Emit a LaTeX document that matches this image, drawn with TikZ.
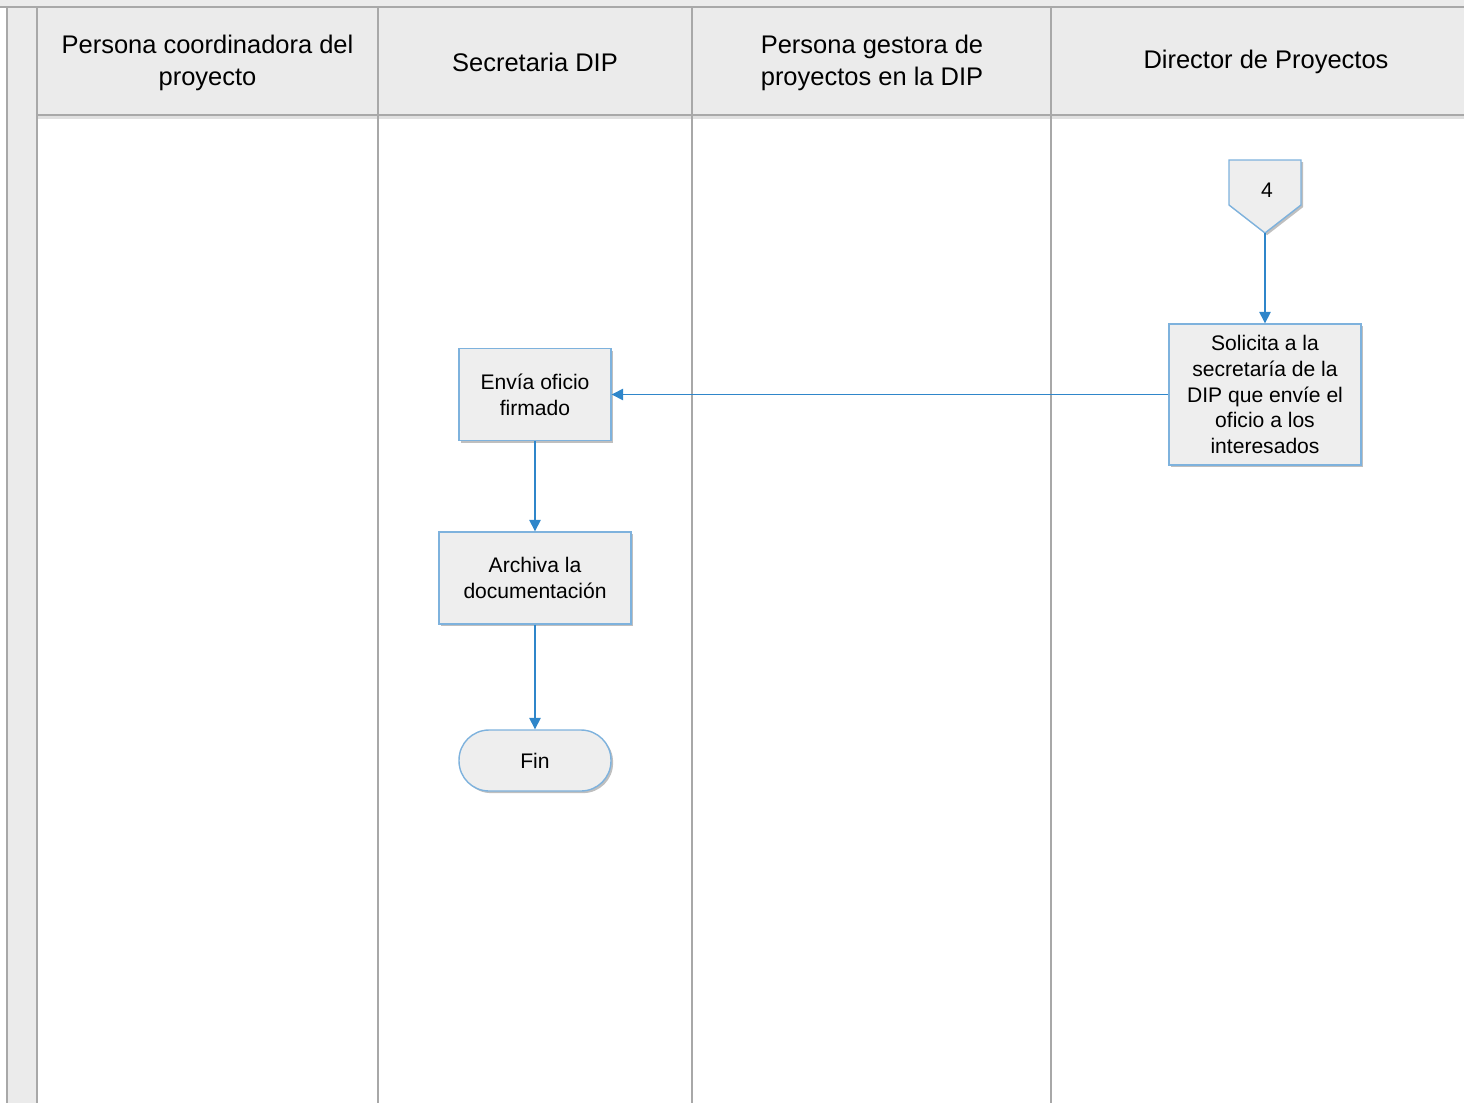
\documentclass[tikz,border=0pt]{standalone}
\usepackage{fontspec}
\setmainfont{Liberation Sans}
\usetikzlibrary{arrows.meta,shadows}
\definecolor{lanegray}{HTML}{A8A8A8}
\definecolor{headfill}{HTML}{EBEBEB}
\definecolor{boxline}{HTML}{7EB2DD}
\definecolor{boxfill}{HTML}{EEEEEE}
\definecolor{flow}{HTML}{2F86CA}

\begin{document}
\begin{tikzpicture}[x=0.02cm,y=-0.02cm,
  lane/.style={draw=lanegray,line width=1pt},
  head/.style={font=\fontsize{14.5}{18}\selectfont,align=center},
  task/.style={draw=boxline,fill=boxfill,line width=0.8pt,align=center,inner sep=0pt,
    font=\fontsize{12}{14.7}\selectfont,
    drop shadow={shadow xshift=1.2pt,shadow yshift=-1.2pt,opacity=0.25,fill=black}},
  link/.style={draw=flow,line width=0.8pt,-{Triangle[length=6.5pt,width=6.5pt]}}]
\useasboundingbox (0,0) rectangle (1464,1103);
% pool and lanes
\fill[headfill] (0,0) rectangle (1464,7);
\fill[headfill] (7,7) rectangle (37,1103);
\fill[headfill] (37,7) rectangle (1464,115);
\draw[black!12,line width=2pt] (37,117) -- (1464,117);
\draw[lane] (0,7) -- (1464,7);
\draw[lane] (7,7) -- (7,1103);
\draw[lane] (37,7) -- (37,1103);
\draw[lane] (37,115) -- (1464,115);
\foreach \x in {378,692,1051}
  \draw[lane] (\x,7) -- (\x,1103);

\node[head] (h1) at (207.5,63) {Persona coordinadora del\\proyecto};
\node[head] (h2) at (535,62) {Secretaria DIP};
\node[head] (h3) at (872,63) {Persona gestora de\\proyectos en la DIP};
\node[head] (h4) at (1266,62) {Director de Proyectos};

% off-page reference
\filldraw[draw=boxline,fill=boxfill,line width=0.8pt,
  drop shadow={shadow xshift=1.2pt,shadow yshift=-1.2pt,opacity=0.25,fill=black}]
  (1229,160) -- (1301,160) -- (1301,205) -- (1265,233) -- (1229,205) -- cycle;
\node[font=\fontsize{12}{14.7}\selectfont] (off4) at (1267,190) {4};
\coordinate (off4tip) at (1265,233);

% tasks
\node[task,minimum width=3.84cm,minimum height=2.82cm] (solicita) at (1265,394.5)
  {Solicita a la\\secretaría de la\\DIP que envíe el\\oficio a los\\interesados};
\node[task,minimum width=3.04cm,minimum height=1.84cm] (envia) at (535,394.5)
  {Envía oficio\\firmado};
\node[task,minimum width=3.84cm,minimum height=1.84cm] (archiva) at (535,578)
  {Archiva la\\documentación};
\node[task,minimum width=3.04cm,minimum height=1.22cm,rounded corners=0.6cm] (fin) at (535,760.5)
  {Fin};

\draw[link] (off4tip) -- (solicita);
\draw[link] (solicita) -- (envia);
\draw[link] (envia) -- (archiva);
\draw[link] (archiva) -- (fin);
\end{tikzpicture}
\end{document}
